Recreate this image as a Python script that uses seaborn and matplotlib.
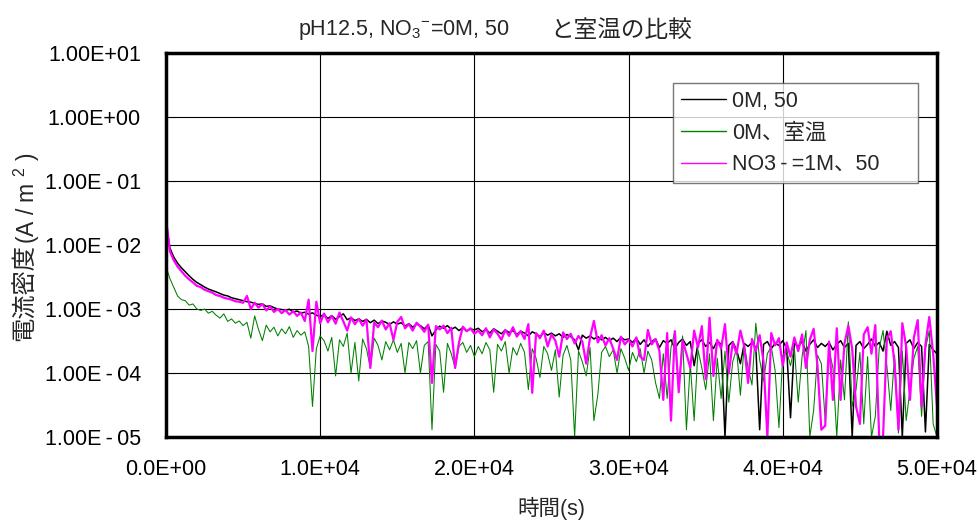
import numpy as np
import pandas as pd
import matplotlib
matplotlib.use("Agg")
import matplotlib.pyplot as plt
import seaborn as sns

# Current density (A/m^2) logged every 250 s
SAMPLE_INTERVAL_S = 250

current_0M_50 = [
    2.3e-2, 9.0e-3, 6.5e-3, 5.2e-3, 4.4e-3, 3.8e-3, 3.3e-3, 2.9e-3, 2.6e-3, 2.4e-3,
    2.2e-3, 2.05e-3, 1.95e-3, 1.85e-3, 1.75e-3, 1.65e-3, 1.6e-3, 1.5e-3, 1.45e-3, 1.4e-3,
    1.35e-3, 1.3e-3, 1.28e-3, 1.22e-3, 1.18e-3, 1.2e-3, 1.1e-3, 1.12e-3, 1.05e-3, 1.0e-3,
    9.8e-4, 9.6e-4, 9.9e-4, 9.0e-4, 9.3e-4, 8.6e-4, 8.9e-4, 8.3e-4, 8.7e-4, 8.0e-4,
    7.6e-4, 8.2e-4, 7.1e-4, 7.9e-4, 6.9e-4, 7.6e-4, 8.4e-4, 6.8e-4, 7.3e-4, 6.6e-4,
    7.0e-4, 6.4e-4, 6.9e-4, 6.1e-4, 6.7e-4, 5.9e-4, 6.5e-4, 6.2e-4, 5.7e-4, 6.3e-4,
    5.8e-4, 6.1e-4, 5.4e-4, 5.9e-4, 5.2e-4, 5.8e-4, 5.5e-4, 4.9e-4, 5.6e-4, 3.8e-4,
    4.7e-4, 5.4e-4, 5.0e-4, 5.5e-4, 4.8e-4, 5.2e-4, 4.6e-4, 5.1e-4, 4.5e-4, 4.9e-4,
    4.7e-4, 5.0e-4, 4.4e-4, 4.8e-4, 4.2e-4, 4.9e-4, 4.5e-4, 4.1e-4, 4.7e-4, 4.3e-4,
    4.6e-4, 4.0e-4, 4.5e-4, 4.2e-4, 3.8e-4, 4.4e-4, 4.1e-4, 3.7e-4, 4.3e-4, 3.9e-4,
    4.2e-4, 3.8e-4, 4.1e-4, 3.6e-4, 4.0e-4, 3.7e-4, 3.3e-4, 2.3e-4, 3.9e-4, 3.5e-4,
    3.8e-4, 3.4e-4, 3.7e-4, 3.3e-4, 3.6e-4, 3.2e-4, 3.5e-4, 3.1e-4, 3.6e-4, 3.3e-4,
    3.4e-4, 3.0e-4, 3.5e-4, 2.8e-4, 3.3e-4, 2.6e-4, 3.1e-4, 3.4e-4, 2.5e-4, 3.2e-4,
    2.9e-4, 3.3e-4, 2.4e-4, 3.0e-4, 3.4e-4, 2.7e-4, 3.1e-4, 1.3e-4, 2.9e-4, 3.3e-4,
    2.6e-4, 3.0e-4, 2.4e-4, 3.2e-4, 2.8e-4, 1.0e-5, 2.7e-4, 3.1e-4, 2.3e-4, 1.4e-4,
    2.9e-4, 2.6e-4, 3.0e-4, 2.5e-4, 1.3e-5, 2.8e-4, 3.1e-4, 2.4e-4, 2.9e-4, 2.7e-4,
    3.2e-4, 2.4e-4, 2.0e-5, 2.9e-4, 2.6e-4, 3.1e-4, 2.2e-4, 2.8e-4, 3.3e-4, 2.5e-4,
    2.9e-4, 2.6e-4, 3.0e-4, 2.3e-4, 2.8e-4, 3.2e-4, 2.5e-4, 2.9e-4, 1.0e-5, 2.7e-4,
    3.1e-4, 2.4e-4, 2.8e-4, 3.4e-4, 2.6e-4, 3.0e-4, 2.2e-4, 4.5e-4, 2.7e-4, 3.1e-4,
    2.5e-4, 1.0e-5, 2.9e-4, 3.3e-4, 2.4e-4, 3.0e-4, 2.6e-4, 1.2e-5, 2.8e-4, 2.3e-4,
    2.0e-4,
]

current_0M_room = [
    4.6e-3, 3.0e-3, 2.2e-3, 1.6e-3, 1.4e-3, 1.35e-3, 1.15e-3, 1.2e-3, 1.0e-3, 9.5e-4,
    1.0e-3, 8.6e-4, 9.2e-4, 8.0e-4, 7.2e-4, 8.4e-4, 6.4e-4, 7.0e-4, 6.0e-4, 6.5e-4,
    5.5e-4, 6.2e-4, 3.5e-4, 7.8e-4, 4.8e-4, 3.2e-4, 5.6e-4, 4.4e-4, 5.2e-4, 3.8e-4,
    4.9e-4, 4.1e-4, 5.3e-4, 3.6e-4, 4.6e-4, 3.9e-4, 4.4e-4, 2.6e-4, 3.0e-5, 2.4e-4,
    3.8e-4, 3.2e-4, 2.2e-4, 3.6e-4, 9.0e-5, 3.3e-4, 2.6e-4, 4.2e-4, 1.0e-4, 3.0e-4,
    7.5e-5, 3.4e-4, 2.4e-4, 1.2e-4, 3.5e-4, 2.7e-4, 1.6e-4, 3.1e-4, 2.3e-4, 3.3e-4,
    2.1e-4, 2.9e-4, 1.0e-4, 3.0e-4, 2.4e-4, 3.2e-4, 1.0e-4, 2.7e-4, 3.1e-4, 1.3e-5,
    2.8e-4, 2.2e-4, 5.0e-5, 2.9e-4, 2.0e-4, 1.2e-4, 2.6e-4, 3.0e-4, 2.1e-4, 2.7e-4,
    1.8e-4, 2.6e-4, 2.0e-4, 3.0e-4, 2.3e-4, 5.0e-5, 2.8e-4, 2.2e-4, 3.1e-4, 1.0e-4,
    2.5e-4, 1.9e-4, 2.9e-4, 2.1e-4, 5.5e-5, 2.4e-4, 1.7e-4, 8.5e-5, 2.6e-4, 2.0e-4,
    1.1e-4, 2.3e-4, 4.2e-5, 1.9e-4, 2.7e-4, 1.6e-4, 1.0e-5, 2.2e-4, 1.5e-4, 9.0e-5,
    2.5e-4, 1.8e-5, 4.5e-5, 2.1e-4, 2.6e-4, 1.8e-4, 2.3e-4, 1.0e-4, 2.4e-4, 1.7e-4,
    1.1e-4, 2.1e-4, 1.5e-4, 2.4e-4, 1.0e-4, 2.2e-4, 1.6e-4, 7.0e-5, 4.0e-5, 2.0e-4,
    4.0e-5, 2.5e-4, 4.5e-4, 5.5e-5, 3.8e-4, 1.3e-5, 1.4e-4, 1.8e-5, 2.3e-4, 1.2e-4,
    5.5e-5, 2.0e-4, 1.8e-5, 1.7e-4, 4.0e-5, 2.2e-4, 3.5e-5, 1.5e-4, 2.4e-4, 4.5e-5,
    2.8e-4, 1.2e-4, 6.5e-5, 6.0e-4, 1.6e-4, 7.5e-5, 2.0e-4, 2.6e-4, 1.1e-4, 1.4e-5,
    1.9e-4, 2.2e-4, 1.3e-4, 2.5e-4, 3.5e-5, 1.8e-4, 4.6e-4, 1.0e-5, 2.6e-5, 1.9e-4,
    1.4e-4, 1.8e-5, 2.3e-4, 1.2e-4, 1.0e-5, 1.6e-4, 3.8e-5, 6.3e-4, 3.0e-5, 5.5e-5,
    2.1e-4, 1.6e-5, 1.8e-4, 1.0e-5, 2.1e-5, 2.4e-4, 4.6e-4, 1.3e-4, 2.6e-5, 1.9e-4,
    1.15e-5, 2.2e-4, 1.8e-5, 5.5e-5, 1.7e-4, 2.6e-4, 2.1e-5, 2.4e-4, 4.6e-4, 1.6e-5,
    1.0e-5,
]

current_1M_50 = [
    2.6e-2, 8.0e-3, 5.8e-3, 4.6e-3, 3.9e-3, 3.3e-3, 2.9e-3, 2.6e-3, 2.3e-3, 2.2e-3,
    2.0e-3, 1.9e-3, 1.8e-3, 1.65e-3, 1.6e-3, 1.5e-3, 1.45e-3, 1.4e-3, 1.32e-3, 1.3e-3,
    1.25e-3, 1.6e-3, 1.0e-3, 1.25e-3, 1.05e-3, 1.2e-3, 9.5e-4, 1.1e-3, 9.0e-4, 1.0e-3,
    8.6e-4, 9.6e-4, 8.2e-4, 9.2e-4, 7.8e-4, 8.8e-4, 6.5e-4, 1.4e-3, 2.2e-4, 1.3e-3,
    6.0e-4, 8.5e-4, 6.2e-4, 7.8e-4, 5.9e-4, 8.8e-4, 6.4e-4, 4.6e-4, 7.4e-4, 5.8e-4,
    7.0e-4, 5.5e-4, 6.8e-4, 1.2e-4, 6.1e-4, 5.2e-4, 6.6e-4, 4.8e-4, 6.0e-4, 3.3e-4,
    6.3e-4, 7.5e-4, 5.0e-4, 5.8e-4, 4.6e-4, 6.1e-4, 5.3e-4, 4.4e-4, 5.7e-4, 7.0e-5,
    5.4e-4, 4.8e-4, 5.5e-4, 4.2e-4, 5.1e-4, 1.2e-4, 3.0e-4, 5.3e-4, 4.5e-4, 5.0e-4,
    4.1e-4, 4.6e-4, 3.9e-4, 5.0e-4, 3.6e-4, 4.8e-4, 4.1e-4, 3.3e-4, 4.7e-4, 3.8e-4,
    5.2e-4, 3.7e-4, 4.5e-4, 3.4e-4, 5.8e-4, 4.9e-5, 4.2e-4, 3.5e-4, 4.6e-4, 2.6e-4,
    4.0e-4, 3.2e-4, 1.8e-4, 4.3e-4, 3.4e-4, 4.1e-4, 2.9e-4, 3.8e-4, 3.1e-4, 1.4e-4,
    3.6e-4, 6.5e-4, 3.0e-4, 3.9e-4, 2.7e-4, 3.5e-4, 2.4e-4, 1.6e-4, 3.7e-4, 2.8e-4,
    3.3e-4, 2.6e-4, 3.6e-4, 1.8e-4, 1.6e-4, 4.7e-4, 2.8e-4, 3.4e-4, 2.2e-4, 3.8e-5,
    4.2e-4, 1.8e-5, 4.5e-4, 5.0e-5, 3.2e-4, 2.0e-4, 1.2e-4, 4.6e-4, 2.5e-4, 5.4e-4,
    8.0e-5, 7.3e-4, 9.0e-5, 3.3e-4, 2.4e-4, 5.8e-4, 1.0e-4, 3.0e-4, 2.0e-4, 4.6e-4,
    2.6e-4, 7.0e-5, 3.4e-4, 2.2e-4, 3.9e-4, 1.5e-4, 1.0e-5, 4.2e-4, 2.7e-4, 3.5e-4,
    1.3e-4, 3.0e-4, 1.8e-4, 3.6e-4, 2.2e-4, 4.0e-4, 1.2e-4, 3.3e-4, 4.9e-4, 1.3e-4,
    1.3e-5, 1.5e-5, 3.1e-4, 3.8e-5, 5.0e-4, 3.8e-5, 2.9e-4, 5.5e-4, 2.4e-4, 3.0e-5,
    1.6e-5, 4.0e-4, 5.2e-4, 2.0e-4, 5.6e-4, 1.0e-5, 1.0e-5, 3.4e-4, 4.5e-4, 1.4e-4,
    1.3e-5, 6.0e-4, 2.6e-4, 3.8e-5, 3.6e-4, 6.7e-4, 3.0e-5, 2.8e-4, 7.5e-4, 2.0e-4,
    3.0e-5,
]

series_labels = ["0M, 50", "0M、室温", "NO3\u2009-\u2009=1M、50"]
series_colors = ["#000000", "#008000", "#FF00FF"]
series_widths = [1.1, 0.75, 1.6]

x_ticks = [0, 10000, 20000, 30000, 40000, 50000]
x_tick_labels = ["0.0E+00", "1.0E+04", "2.0E+04", "3.0E+04", "4.0E+04", "5.0E+04"]
y_ticks = [1e1, 1e0, 1e-1, 1e-2, 1e-3, 1e-4, 1e-5]
y_tick_labels = ["1.00E+01", "1.00E+00", "1.00E\u2009-\u200901", "1.00E\u2009-\u200902",
                 "1.00E\u2009-\u200903", "1.00E\u2009-\u200904", "1.00E\u2009-\u200905"]

title_latin = "pH12.5, NO$_3$$^{-}$=0M, 50"
title_cjk = "と室温の比較"
x_label = "時間(s)"
y_label_cjk = "電流密度"
y_label_unit = "(A / m $^{2}$ )"

sns.set_style("white")
FONTS = ["Liberation Sans", "Noto Sans CJK JP", "DejaVu Sans"]
plt.rcParams["font.family"] = FONTS
plt.rcParams["mathtext.fontset"] = "custom"
plt.rcParams["mathtext.rm"] = "Liberation Sans"
plt.rcParams["mathtext.it"] = "Liberation Sans"
plt.rcParams["mathtext.default"] = "regular"

FS = 15.5
W, H = 979, 524

frames = []
for label, values in zip(series_labels, [current_0M_50, current_0M_room, current_1M_50]):
    frames.append(pd.DataFrame({
        "time": np.arange(len(values)) * SAMPLE_INTERVAL_S,
        "current": values,
        "series": label,
    }))
data = pd.concat(frames, ignore_index=True)

fig = plt.figure(figsize=(W / 100, H / 100), dpi=100)
ax = fig.add_axes([166 / W, 1 - 437 / H, (937 - 166) / W, (437 - 53) / H])

for label, color, lw in zip(series_labels, series_colors, series_widths):
    sns.lineplot(data=data[data["series"] == label], x="time", y="current",
                 color=color, linewidth=lw, label=label, ax=ax,
                 estimator=None, sort=False)

ax.set_yscale("log")
ax.set_xlim(0, 50000)
ax.set_ylim(1e-5, 1e1)
ax.set_xticks(x_ticks)
ax.set_xticklabels(x_tick_labels)
ax.set_yticks(y_ticks)
ax.set_yticklabels(y_tick_labels)
ax.minorticks_off()
ax.tick_params(axis="both", length=0, labelsize=FS, colors="black")
ax.tick_params(axis="x", pad=16)
ax.tick_params(axis="y", pad=18)
ax.grid(True, color="black", linewidth=0.8)
for spine in ax.spines.values():
    spine.set_color("black")
    spine.set_linewidth(2.5)

ax.set_xlabel(x_label, fontsize=FS, labelpad=12)
ax.set_ylabel("")

# legend box spans a fixed width, entries left aligned
leg = ax.legend(loc="upper left",
                bbox_to_anchor=(673 / W, 1 - 183 / H, (918 - 673) / W, (183 - 83) / H),
                bbox_transform=fig.transFigure, mode="expand", borderaxespad=0,
                fontsize=FS, frameon=True, fancybox=False,
                handlelength=2.1, handletextpad=0.3, labelspacing=0.5,
                borderpad=0.35)
leg.get_frame().set_edgecolor("#555555")
leg.get_frame().set_linewidth(1.0)
for line in leg.get_lines():
    line.set_linewidth(1.0)

# title and y label: Latin/mathtext part and Japanese part set side by side
renderer = fig.canvas.get_renderer()
t1 = fig.text(298 / W, 1 - 30 / H, title_latin, fontsize=FS, ha="left", va="center")
bb1 = t1.get_window_extent(renderer)
fig.text((bb1.x1 + 40) / W, 1 - 30 / H, title_cjk, fontsize=FS + 1.5,
         family=["Noto Sans CJK JP", "DejaVu Sans"], ha="left", va="center")

y1 = fig.text(25 / W, 0.5, y_label_cjk, fontsize=FS + 2, rotation=90,
              family=["Noto Sans CJK JP", "DejaVu Sans"], ha="center", va="bottom")
y2 = fig.text(25 / W, 0.5, y_label_unit, fontsize=FS + 1, rotation=90,
              ha="center", va="bottom")
h1 = y1.get_window_extent(renderer).height
h2 = y2.get_window_extent(renderer).height
center = H - 247
start = center - (h1 + h2) / 2
y1.set_position((25 / W, start / H))
y2.set_position((27 / W, (start + h1) / H))

fig.savefig("out.png", dpi=100)
